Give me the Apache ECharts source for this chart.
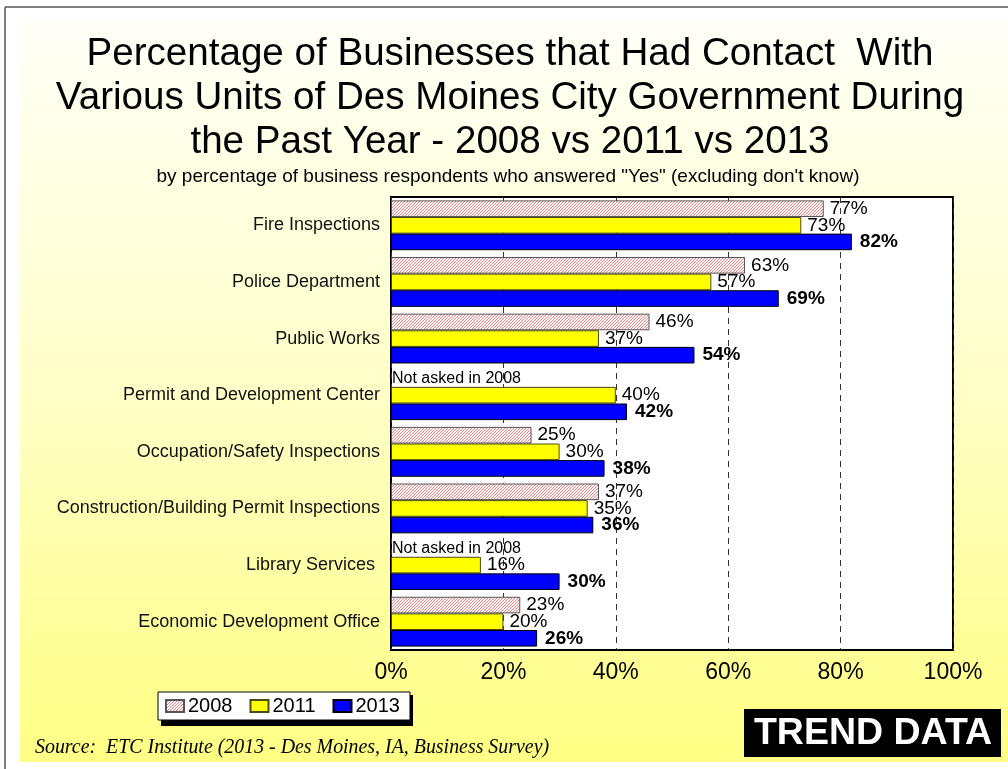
<!DOCTYPE html>
<html>
<head>
<meta charset="utf-8">
<script src="https://cdn.jsdelivr.net/npm/echarts@6/dist/echarts.min.js"></script>
<style>
  html, body { margin: 0; padding: 0; background: #fff; }
  #chart { width: 1008px; height: 769px; }
</style>
</head>
<body>
<div id="chart"></div>
<script>
// Survey results: share of businesses with contact, by city unit and survey year
var categories = [
  'Fire Inspections',
  'Police Department',
  'Public Works',
  'Permit and Development Center',
  'Occupation/Safety Inspections',
  'Construction/Building Permit Inspections',
  'Library Services ',
  'Economic Development Office'
];
var values2008 = [77, 63, 46, null, 25, 37, null, 23];   // null = not asked in 2008
var values2011 = [73, 57, 37, 40, 30, 35, 16, 20];
var values2013 = [82, 69, 54, 42, 38, 36, 30, 26];
var xTicks = [0, 20, 40, 60, 80, 100];

var FONT = '"Liberation Sans", Arial, Helvetica, sans-serif';

// fine diagonal pink hatching used for the 2008 bars, drawn pixel by pixel
function makeHatch() {
  var n = 3;
  var c = document.createElement('canvas');
  c.width = n; c.height = n;
  var g = c.getContext('2d');
  for (var y = 0; y < n; y++) {
    for (var x = 0; x < n; x++) {
      var k = (x + y) % n;
      g.fillStyle = k === n - 1 ? 'rgb(242,128,128)' : 'rgb(255,255,255)';
      g.fillRect(x, y, 1, 1);
    }
  }
  return c;
}
var hatch = { image: makeHatch(), repeat: 'repeat' };

var data2008 = values2008.map(function (v) {
  if (v === null) {
    return {
      value: 0,
      itemStyle: { borderWidth: 0, color: 'rgba(0,0,0,0)' },
      label: { formatter: 'Not asked in 2008', fontSize: 16, distance: 1 }
    };
  }
  return v;
});

var chart = echarts.init(document.getElementById('chart'), null, { renderer: 'canvas' });

var valueLabel = {
  show: true,
  position: 'right',
  distance: 6,
  color: '#000',
  fontFamily: FONT,
  fontSize: 19,
  formatter: '{c}%'
};

chart.setOption({
  animation: false,
  backgroundColor: '#ffffff',
  graphic: [
    // slide frame and gradient background
    { type: 'line', z: -10, shape: { x1: 5, y1: 7, x2: 1008, y2: 7 }, style: { stroke: '#555', lineWidth: 1.5 } },
    { type: 'line', z: -10, shape: { x1: 5, y1: 7, x2: 5, y2: 769 }, style: { stroke: '#555', lineWidth: 1.5 } },
    {
      type: 'rect', z: -10,
      shape: { x: 20, y: 20, width: 988, height: 742 },
      style: {
        fill: new echarts.graphic.LinearGradient(0, 0, 0, 1, [
          { offset: 0, color: '#fffff8' },
          { offset: 0.5, color: '#ffffc8' },
          { offset: 1, color: '#ffff84' }
        ])
      }
    },
    {
      type: 'text', x: 510, y: 32,
      style: {
        text: 'Percentage of Businesses that Had Contact  With\nVarious Units of Des Moines City Government During\nthe Past Year - 2008 vs 2011 vs 2013',
        font: '38.6px ' + FONT,
        fill: '#000',
        textAlign: 'center',
        lineHeight: 44
      }
    },
    {
      type: 'text', x: 508, y: 167,
      style: {
        text: 'by percentage of business respondents who answered "Yes" (excluding don\'t know)',
        font: '19px ' + FONT,
        fill: '#000',
        textAlign: 'center'
      }
    },
    // legend drop shadow
    { type: 'rect', z: 1, shape: { x: 161, y: 695, width: 252, height: 31 }, style: { fill: '#000' } },
    {
      type: 'text', z: 5, x: 35, y: 748,
      style: {
        text: 'Source:  ETC Institute (2013 - Des Moines, IA, Business Survey)',
        font: 'italic 19.9px "Liberation Serif", "Times New Roman", serif',
        fill: '#000',
        textVerticalAlign: 'middle'
      }
    },
    { type: 'rect', z: 5, shape: { x: 744, y: 709, width: 257, height: 48 }, style: { fill: '#000' } },
    {
      type: 'text', z: 6, x: 873, y: 734,
      style: {
        text: 'TREND DATA',
        font: 'bold 37.5px ' + FONT,
        fill: '#fff',
        textAlign: 'center',
        textVerticalAlign: 'middle'
      }
    }
  ],
  legend: {
    left: 158,
    top: 692,
    icon: 'rect',
    itemWidth: 18,
    itemHeight: 12,
    itemGap: 17,
    padding: [4, 10, 4, 7],
    backgroundColor: '#fff',
    borderColor: '#000',
    borderWidth: 1,
    z: 4,
    textStyle: { fontFamily: FONT, fontSize: 20, color: '#000', padding: [0, 0, 0, -1] },
    data: ['2008', '2011', '2013']
  },
  grid: {
    left: 391,
    right: 55,
    top: 197,
    bottom: 119,
    show: true,
    backgroundColor: '#fff',
    borderColor: '#000',
    borderWidth: 2
  },
  xAxis: {
    type: 'value',
    min: xTicks[0],
    max: xTicks[xTicks.length - 1],
    interval: xTicks[1] - xTicks[0],
    axisLine: { show: false },
    axisTick: { show: false },
    axisLabel: { formatter: '{value}%', fontFamily: FONT, fontSize: 23, color: '#000', margin: 11 },
    splitLine: { show: true, lineStyle: { color: '#333', width: 1, type: [6, 5] } }
  },
  yAxis: {
    type: 'category',
    inverse: true,
    data: categories,
    axisLine: { show: false },
    axisTick: { show: false },
    axisLabel: { fontFamily: FONT, fontSize: 18, color: '#111', margin: 11 }
  },
  series: [
    {
      name: '2008', type: 'bar', data: data2008,
      barGap: '0%', barCategoryGap: '12%',
      itemStyle: { color: hatch, borderColor: '#555', borderWidth: 1 },
      label: valueLabel
    },
    {
      name: '2011', type: 'bar', data: values2011,
      barGap: '0%', barCategoryGap: '12%',
      itemStyle: { color: '#ffff00', borderColor: '#4a4a1a', borderWidth: 1 },
      label: valueLabel
    },
    {
      name: '2013', type: 'bar', data: values2013,
      barGap: '0%', barCategoryGap: '12%',
      itemStyle: { color: '#0000ff', borderColor: '#000', borderWidth: 1 },
      label: Object.assign({}, valueLabel, { fontWeight: 'bold', distance: 8 })
    }
  ]
});
</script>
</body>
</html>
